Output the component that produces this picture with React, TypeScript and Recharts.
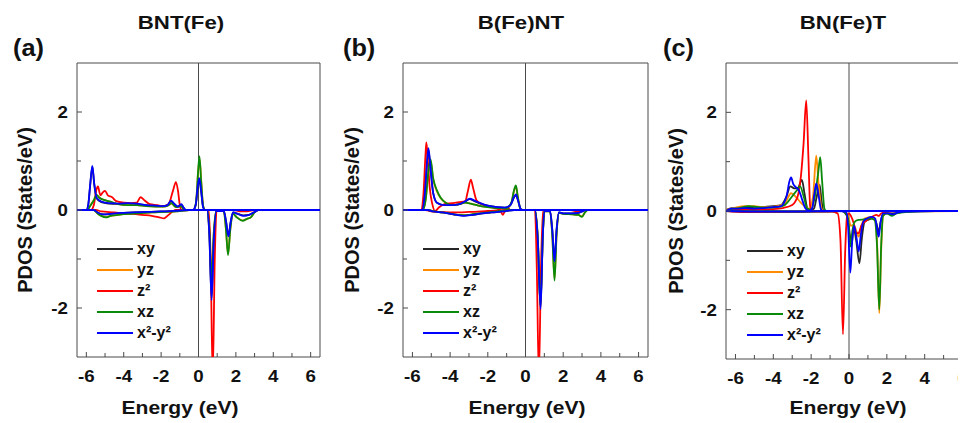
import React from 'react';
import { LineChart, Line, XAxis, YAxis, ReferenceLine, ReferenceArea, Legend } from 'recharts';

type Pt = [number, number];

// ---------- labels / ticks ----------
const ORBITALS = ['xy', 'yz', 'z²', 'xz', 'x²-y²'];
const COLORS = ['#262626', '#FF8C00', '#FF0000', '#0A8A0A', '#0000FF'];
const E_TICKS = [-6, -5, -4, -3, -2, -1, 0, 1, 2, 3, 4, 5, 6];
const Y_TICKS = [-2, -1, 0, 1, 2];
const TITLES = ['BNT(Fe)', 'B(Fe)NT', 'BN(Fe)T'];
const LETTERS = ['(a)', '(b)', '(c)'];
const X_LABEL = 'Energy (eV)';
const Y_LABEL = 'PDOS (States/eV)';

// ---------- panel (a) BNT(Fe) : [energy, PDOS] ----------
const A_XY_UP: Pt[] = [[-6.5, 0], [-6.0, 0], [-5.9, 0.1], [-5.8, 0.48], [-5.68, 0.88], [-5.58, 0.53], [-5.45, 0.24], [-5.2, 0.16], [-4.8, 0.13], [-4.3, 0.12], [-3.8, 0.13], [-3.3, 0.12], [-2.8, 0.1], [-2.3, 0.09], [-1.9, 0.08], [-1.65, 0.1], [-1.48, 0.18], [-1.3, 0.12], [-1.1, 0.07], [-0.92, 0.11], [-0.8, 0.05], [-0.68, 0], [-0.3, 0], [-0.15, 0.1], [-0.05, 0.42], [0.04, 0.62], [0.14, 0.38], [0.25, 0.05], [0.35, 0], [6.5, 0]];
const A_YZ_UP: Pt[] = [[-6.5, 0], [-5.95, 0], [-5.8, 0.08], [-5.6, 0.2], [-5.45, 0.3], [-5.3, 0.25], [-5.0, 0.2], [-4.7, 0.16], [-4.3, 0.12], [-3.8, 0.1], [-3.3, 0.1], [-2.8, 0.08], [-2.3, 0.07], [-1.9, 0.07], [-1.6, 0.1], [-1.45, 0.13], [-1.2, 0.06], [-0.95, 0.08], [-0.75, 0], [-0.25, 0], [-0.12, 0.2], [-0.02, 0.78], [0.06, 1.03], [0.15, 0.58], [0.25, 0.08], [0.35, 0], [6.5, 0]];
const A_Z2_UP: Pt[] = [[-6.5, 0], [-5.75, 0], [-5.6, 0.1], [-5.47, 0.4], [-5.38, 0.48], [-5.25, 0.3], [-5.12, 0.36], [-5.0, 0.39], [-4.85, 0.3], [-4.62, 0.26], [-4.4, 0.18], [-4.0, 0.15], [-3.6, 0.14], [-3.3, 0.15], [-3.1, 0.26], [-2.9, 0.2], [-2.6, 0.12], [-2.2, 0.1], [-1.9, 0.08], [-1.6, 0.12], [-1.36, 0.4], [-1.21, 0.57], [-1.1, 0.4], [-1.0, 0.1], [-0.9, 0], [6.5, 0]];
const A_XZ_UP: Pt[] = [[-6.5, 0], [-5.95, 0], [-5.8, 0.08], [-5.6, 0.2], [-5.45, 0.31], [-5.3, 0.25], [-5.0, 0.2], [-4.7, 0.17], [-4.3, 0.12], [-3.8, 0.1], [-3.3, 0.1], [-2.8, 0.08], [-2.3, 0.07], [-1.9, 0.07], [-1.6, 0.1], [-1.45, 0.14], [-1.2, 0.06], [-0.95, 0.08], [-0.75, 0], [-0.25, 0], [-0.12, 0.2], [-0.02, 0.8], [0.05, 1.1], [0.14, 0.6], [0.25, 0.08], [0.35, 0], [6.5, 0]];
const A_X2_UP: Pt[] = [[-6.5, 0], [-6.0, 0], [-5.9, 0.1], [-5.8, 0.5], [-5.68, 0.9], [-5.58, 0.55], [-5.45, 0.25], [-5.2, 0.17], [-4.8, 0.14], [-4.3, 0.13], [-3.8, 0.14], [-3.3, 0.13], [-2.8, 0.1], [-2.3, 0.09], [-1.9, 0.08], [-1.65, 0.1], [-1.48, 0.19], [-1.3, 0.13], [-1.1, 0.07], [-0.92, 0.12], [-0.8, 0.05], [-0.68, 0], [-0.3, 0], [-0.15, 0.1], [-0.05, 0.45], [0.04, 0.65], [0.14, 0.4], [0.25, 0.05], [0.35, 0], [6.5, 0]];
const A_XY_DN: Pt[] = [[-6.5, 0], [-5.6, 0], [-5.4, -0.05], [-5.1, -0.09], [-4.7, -0.08], [-4.2, -0.06], [-3.5, -0.05], [-2.8, -0.04], [-2.0, -0.03], [-1.0, -0.01], [-0.5, 0], [0.45, 0], [0.58, -0.5], [0.7, -1.8], [0.82, -0.6], [0.95, -0.02], [1.35, -0.02], [1.48, -0.25], [1.6, -0.52], [1.72, -0.25], [1.85, -0.05], [2.1, -0.08], [2.4, -0.11], [2.7, -0.1], [3.0, -0.04], [3.2, 0], [6.5, 0]];
const A_YZ_DN: Pt[] = [[-6.5, 0], [-5.6, 0], [-5.4, -0.07], [-5.2, -0.12], [-4.96, -0.14], [-4.7, -0.12], [-4.3, -0.1], [-3.8, -0.08], [-3.2, -0.07], [-2.5, -0.05], [-1.8, -0.04], [-1.0, -0.02], [-0.5, 0], [0.45, 0], [0.58, -0.4], [0.7, -1.4], [0.82, -0.45], [0.95, -0.02], [1.35, -0.02], [1.47, -0.4], [1.58, -0.9], [1.7, -0.4], [1.85, -0.08], [2.05, -0.15], [2.36, -0.21], [2.6, -0.18], [2.8, -0.15], [3.0, -0.05], [3.2, 0], [6.5, 0]];
const A_Z2_DN: Pt[] = [[-6.5, 0], [-5.5, 0], [-5.2, -0.03], [-4.5, -0.05], [-4.0, -0.07], [-3.5, -0.08], [-3.0, -0.1], [-2.5, -0.12], [-2.1, -0.15], [-1.84, -0.17], [-1.6, -0.1], [-1.35, -0.02], [-1.2, 0], [0.55, 0], [0.65, -1.0], [0.76, -3.4], [0.87, -1.0], [0.97, 0], [1.9, 0], [2.2, -0.03], [2.6, -0.03], [3.0, 0], [6.5, 0]];
const A_XZ_DN: Pt[] = [[-6.5, 0], [-5.6, 0], [-5.4, -0.07], [-5.2, -0.12], [-4.96, -0.15], [-4.7, -0.12], [-4.3, -0.1], [-3.8, -0.08], [-3.2, -0.07], [-2.5, -0.05], [-1.8, -0.04], [-1.0, -0.02], [-0.5, 0], [0.45, 0], [0.58, -0.4], [0.7, -1.43], [0.82, -0.45], [0.95, -0.02], [1.35, -0.02], [1.47, -0.4], [1.58, -0.92], [1.7, -0.4], [1.85, -0.08], [2.05, -0.15], [2.36, -0.22], [2.6, -0.18], [2.8, -0.15], [3.0, -0.05], [3.2, 0], [6.5, 0]];
const A_X2_DN: Pt[] = [[-6.5, 0], [-5.6, 0], [-5.4, -0.05], [-5.1, -0.09], [-4.7, -0.08], [-4.2, -0.06], [-3.5, -0.05], [-2.8, -0.04], [-2.0, -0.03], [-1.0, -0.01], [-0.5, 0], [0.45, 0], [0.58, -0.5], [0.7, -1.84], [0.82, -0.6], [0.95, -0.02], [1.35, -0.02], [1.48, -0.25], [1.6, -0.54], [1.72, -0.25], [1.85, -0.05], [2.1, -0.08], [2.4, -0.12], [2.7, -0.1], [3.0, -0.04], [3.2, 0], [6.5, 0]];

// ---------- panel (b) B(Fe)NT ----------
const B_XY_UP: Pt[] = [[-6.5, 0], [-5.5, 0], [-5.35, 0.3], [-5.22, 0.98], [-5.15, 1.22], [-5.05, 0.88], [-4.9, 0.35], [-4.7, 0.15], [-4.3, 0.1], [-3.9, 0.1], [-3.5, 0.12], [-3.2, 0.17], [-2.96, 0.22], [-2.7, 0.18], [-2.4, 0.13], [-2.0, 0.09], [-1.5, 0.06], [-1.1, 0.05], [-0.8, 0.1], [-0.62, 0.25], [-0.51, 0.3], [-0.4, 0.2], [-0.25, 0.02], [-0.15, 0], [6.5, 0]];
const B_YZ_UP: Pt[] = [[-6.5, 0], [-5.45, 0], [-5.3, 0.2], [-5.15, 0.78], [-5.04, 1.0], [-4.9, 0.63], [-4.7, 0.38], [-4.5, 0.24], [-4.2, 0.14], [-3.9, 0.1], [-3.5, 0.12], [-3.2, 0.15], [-2.9, 0.13], [-2.5, 0.09], [-2.0, 0.06], [-1.5, 0.04], [-1.0, 0.04], [-0.75, 0.15], [-0.6, 0.4], [-0.51, 0.48], [-0.42, 0.3], [-0.28, 0.03], [-0.15, 0], [6.5, 0]];
const B_Z2_UP: Pt[] = [[-6.5, 0], [-5.55, 0], [-5.42, 0.3], [-5.31, 1.1], [-5.26, 1.38], [-5.18, 1.0], [-5.08, 0.45], [-4.95, 0.13], [-4.8, -0.02], [-4.6, 0.05], [-4.3, 0.12], [-3.9, 0.14], [-3.5, 0.16], [-3.2, 0.18], [-3.05, 0.4], [-2.9, 0.62], [-2.78, 0.45], [-2.6, 0.2], [-2.3, 0.12], [-2.0, 0.08], [-1.6, 0.04], [-1.35, 0], [-1.2, -0.1], [-1.05, 0.02], [-0.95, 0.05], [-0.8, 0], [6.5, 0]];
const B_XZ_UP: Pt[] = [[-6.5, 0], [-5.45, 0], [-5.3, 0.2], [-5.15, 0.8], [-5.04, 1.04], [-4.9, 0.65], [-4.7, 0.4], [-4.5, 0.25], [-4.2, 0.14], [-3.9, 0.1], [-3.5, 0.12], [-3.2, 0.15], [-2.9, 0.13], [-2.5, 0.09], [-2.0, 0.06], [-1.5, 0.04], [-1.0, 0.04], [-0.75, 0.15], [-0.6, 0.42], [-0.51, 0.5], [-0.42, 0.3], [-0.28, 0.03], [-0.15, 0], [6.5, 0]];
const B_X2_UP: Pt[] = [[-6.5, 0], [-5.5, 0], [-5.35, 0.3], [-5.22, 1.0], [-5.15, 1.26], [-5.05, 0.9], [-4.9, 0.35], [-4.7, 0.15], [-4.3, 0.1], [-3.9, 0.1], [-3.5, 0.12], [-3.2, 0.18], [-2.96, 0.23], [-2.7, 0.19], [-2.4, 0.14], [-2.0, 0.09], [-1.5, 0.06], [-1.1, 0.05], [-0.8, 0.1], [-0.62, 0.26], [-0.51, 0.32], [-0.4, 0.2], [-0.25, 0.02], [-0.15, 0], [6.5, 0]];
const B_XY_DN: Pt[] = [[-6.5, 0], [-5.2, 0], [-4.9, -0.03], [-4.4, -0.05], [-3.8, -0.09], [-3.3, -0.11], [-2.8, -0.1], [-2.3, -0.07], [-1.8, -0.05], [-1.2, -0.03], [-0.6, 0], [0.5, 0], [0.65, -0.6], [0.8, -1.98], [0.92, -0.5], [1.0, -0.02], [1.3, -0.02], [1.42, -0.4], [1.54, -1.02], [1.65, -0.4], [1.78, -0.05], [2.0, -0.07], [2.5, -0.07], [2.8, -0.06], [3.0, -0.03], [3.2, 0], [6.5, 0]];
const B_YZ_DN: Pt[] = [[-6.5, 0], [-5.2, 0], [-4.8, -0.03], [-4.2, -0.06], [-3.6, -0.1], [-3.2, -0.11], [-2.7, -0.08], [-2.2, -0.06], [-1.5, -0.03], [-0.8, 0], [0.5, 0], [0.65, -0.55], [0.79, -1.93], [0.92, -0.5], [1.0, -0.03], [1.3, -0.03], [1.42, -0.5], [1.54, -1.4], [1.65, -0.5], [1.78, -0.06], [2.0, -0.08], [2.5, -0.09], [2.8, -0.1], [3.0, -0.13], [3.15, -0.05], [3.3, 0], [6.5, 0]];
const B_Z2_DN: Pt[] = [[-6.5, 0], [-5.3, 0], [-5.0, -0.03], [-4.5, -0.04], [-3.8, -0.05], [-3.0, -0.04], [-2.0, -0.02], [-1.0, 0], [0.5, 0], [0.6, -1.2], [0.71, -3.4], [0.82, -1.2], [0.93, 0], [2.4, 0], [2.7, -0.03], [2.9, -0.02], [3.1, 0], [6.5, 0]];
const B_XZ_DN: Pt[] = [[-6.5, 0], [-5.2, 0], [-4.8, -0.03], [-4.2, -0.06], [-3.6, -0.1], [-3.2, -0.11], [-2.7, -0.08], [-2.2, -0.06], [-1.5, -0.03], [-0.8, 0], [0.5, 0], [0.65, -0.55], [0.79, -1.95], [0.92, -0.5], [1.0, -0.03], [1.3, -0.03], [1.42, -0.5], [1.54, -1.44], [1.65, -0.5], [1.78, -0.06], [2.0, -0.08], [2.5, -0.09], [2.8, -0.1], [3.0, -0.14], [3.15, -0.05], [3.3, 0], [6.5, 0]];
const B_X2_DN: Pt[] = [[-6.5, 0], [-5.2, 0], [-4.9, -0.03], [-4.4, -0.05], [-3.8, -0.09], [-3.3, -0.12], [-2.8, -0.1], [-2.3, -0.07], [-1.8, -0.05], [-1.2, -0.03], [-0.6, 0], [0.5, 0], [0.65, -0.6], [0.8, -2.02], [0.92, -0.5], [1.0, -0.02], [1.3, -0.02], [1.42, -0.4], [1.54, -1.05], [1.65, -0.4], [1.78, -0.05], [2.0, -0.07], [2.5, -0.07], [2.8, -0.06], [3.0, -0.03], [3.2, 0], [6.5, 0]];

// ---------- panel (c) BN(Fe)T ----------
const C_XY_UP: Pt[] = [[-6.5, 0.02], [-6.2, 0.06], [-5.9, 0.05], [-5.5, 0.08], [-5.0, 0.06], [-4.5, 0.08], [-4.0, 0.1], [-3.6, 0.12], [-3.3, 0.3], [-3.1, 0.5], [-2.9, 0.46], [-2.7, 0.47], [-2.49, 0.63], [-2.35, 0.35], [-2.2, 0.05], [-2.05, 0], [-1.85, 0.05], [-1.7, 0.3], [-1.55, 0.53], [-1.45, 0.2], [-1.35, 0], [6.5, 0]];
const C_YZ_UP: Pt[] = [[-6.5, 0.02], [-6.2, 0.05], [-5.9, 0.08], [-5.5, 0.1], [-5.0, 0.1], [-4.6, 0.08], [-4.2, 0.08], [-3.8, 0.1], [-3.4, 0.15], [-3.06, 0.36], [-2.8, 0.28], [-2.5, 0.15], [-2.3, 0.08], [-2.1, 0.05], [-1.9, 0.3], [-1.73, 1.12], [-1.62, 0.6], [-1.45, 0.05], [-1.35, 0], [6.5, 0]];
const C_Z2_UP: Pt[] = [[-6.5, 0], [-6.0, 0.02], [-5.0, 0.03], [-4.0, 0.04], [-3.5, 0.06], [-3.0, 0.12], [-2.84, 0.19], [-2.67, 0.36], [-2.54, 0.71], [-2.4, 1.37], [-2.26, 2.24], [-2.14, 1.03], [-2.05, 0.09], [-1.9, 0], [6.5, 0]];
const C_XZ_UP: Pt[] = [[-6.5, 0], [-6.2, 0.04], [-5.8, 0.06], [-5.3, 0.1], [-4.8, 0.08], [-4.3, 0.07], [-3.8, 0.08], [-3.4, 0.12], [-3.0, 0.3], [-2.75, 0.42], [-2.58, 0.5], [-2.4, 0.3], [-2.2, 0.05], [-2.0, 0.03], [-1.8, 0.3], [-1.62, 0.8], [-1.52, 1.09], [-1.42, 0.6], [-1.3, 0.05], [-1.2, 0], [6.5, 0]];
const C_X2_UP: Pt[] = [[-6.5, 0], [-6.2, 0.05], [-5.9, 0.05], [-5.5, 0.06], [-5.0, 0.05], [-4.5, 0.06], [-4.0, 0.08], [-3.6, 0.1], [-3.3, 0.3], [-3.15, 0.6], [-3.06, 0.68], [-2.95, 0.55], [-2.8, 0.48], [-2.65, 0.42], [-2.45, 0.2], [-2.3, 0.05], [-2.1, 0], [-1.95, 0.05], [-1.83, 0.35], [-1.73, 0.56], [-1.62, 0.35], [-1.48, 0.03], [-1.4, 0], [6.5, 0]];
const C_XY_DN: Pt[] = [[-6.5, 0], [-3.0, -0.01], [-0.4, 0], [-0.1, -0.1], [0.05, -0.5], [0.12, -0.72], [0.25, -0.35], [0.38, -0.6], [0.55, -1.06], [0.68, -0.55], [0.82, -0.22], [1.0, -0.18], [1.3, -0.15], [1.45, -0.25], [1.57, -0.42], [1.68, -0.2], [1.85, -0.05], [2.3, -0.05], [2.8, -0.02], [3.5, 0], [6.5, 0]];
const C_YZ_DN: Pt[] = [[-6.5, 0], [-3.0, -0.01], [-0.3, 0], [-0.05, -0.1], [0.1, -0.3], [0.25, -0.28], [0.4, -0.42], [0.51, -0.52], [0.65, -0.3], [0.85, -0.15], [1.2, -0.12], [1.4, -0.2], [1.5, -0.8], [1.6, -2.07], [1.7, -0.8], [1.8, -0.1], [2.0, -0.05], [2.28, -0.08], [2.6, -0.03], [3.0, -0.01], [6.5, 0]];
const C_Z2_DN: Pt[] = [[-6.5, 0], [-5.5, -0.02], [-4.5, -0.02], [-3.5, -0.02], [-2.0, -0.01], [-0.9, -0.01], [-0.6, -0.05], [-0.45, -0.6], [-0.32, -2.5], [-0.2, -0.8], [-0.1, -0.1], [0.0, -0.05], [0.1, -0.1], [0.25, -0.25], [0.38, -0.45], [0.5, -0.45], [0.65, -0.3], [0.9, -0.2], [1.2, -0.12], [1.45, -0.08], [1.57, -0.1], [1.7, -0.05], [2.0, -0.02], [2.5, 0], [6.5, 0]];
const C_XZ_DN: Pt[] = [[-6.5, 0], [-3.0, -0.01], [-0.3, 0], [-0.05, -0.15], [0.07, -0.72], [0.18, -0.4], [0.3, -0.22], [0.5, -0.18], [0.8, -0.17], [1.1, -0.15], [1.35, -0.18], [1.48, -0.7], [1.6, -2.0], [1.7, -0.7], [1.8, -0.1], [2.0, -0.05], [2.28, -0.1], [2.5, -0.05], [3.0, -0.02], [4.6, 0], [6.5, 0]];
const C_X2_DN: Pt[] = [[-6.5, 0], [-5.0, -0.01], [-3.0, -0.01], [-0.5, 0], [-0.15, -0.02], [-0.05, -0.3], [0.07, -1.25], [0.17, -0.6], [0.27, -0.3], [0.4, -0.55], [0.51, -0.82], [0.62, -0.5], [0.75, -0.22], [0.95, -0.15], [1.2, -0.12], [1.38, -0.15], [1.5, -0.4], [1.57, -0.52], [1.66, -0.25], [1.8, -0.05], [2.1, -0.05], [2.3, -0.07], [2.6, -0.03], [3.0, -0.01], [4.6, 0], [6.5, 0]];

// ---------- layout ----------
const FONT = "'Liberation Sans', Arial, Helvetica, sans-serif";
const FRAME = '#4a4a4a';
const SX = 1.17; // horizontal stretch of the original figure's lettering

type PanelSpec = {
  plotLeft: number; plotRight: number; plotTop: number; plotBottom: number;
  titleX: number; letterX: number; yLabelX: number; xLabelX: number;
  legendX: number; legendY: number;
  up: Pt[][]; dn: Pt[][];
};

const PANELS: PanelSpec[] = [
  { plotLeft: 77, plotRight: 320, plotTop: 63, plotBottom: 357, titleX: 181, letterX: 13, yLabelX: 26, xLabelX: 180, legendX: 97, legendY: 249,
    up: [A_XY_UP, A_YZ_UP, A_Z2_UP, A_XZ_UP, A_X2_UP], dn: [A_XY_DN, A_YZ_DN, A_Z2_DN, A_XZ_DN, A_X2_DN] },
  { plotLeft: 403, plotRight: 648, plotTop: 63, plotBottom: 357, titleX: 521, letterX: 343, yLabelX: 353, xLabelX: 527, legendX: 423, legendY: 249,
    up: [B_XY_UP, B_YZ_UP, B_Z2_UP, B_XZ_UP, B_X2_UP], dn: [B_XY_DN, B_YZ_DN, B_Z2_DN, B_XZ_DN, B_X2_DN] },
  { plotLeft: 726, plotRight: 972, plotTop: 63, plotBottom: 359, titleX: 843, letterX: 663, yLabelX: 677, xLabelX: 848, legendX: 747, legendY: 251,
    up: [C_XY_UP, C_YZ_UP, C_Z2_UP, C_XZ_UP, C_X2_UP], dn: [C_XY_DN, C_YZ_DN, C_Z2_DN, C_XZ_DN, C_X2_DN] },
];

const toRows = (pts: Pt[]) => pts.map(([e, v]) => ({ e, v }));

const XTick = (props: any) => {
  const { x, y, payload } = props;
  const v = payload.value as number;
  const major = v % 2 === 0;
  return (
    <g>
      <line x1={x} y1={y} x2={x} y2={y - (major ? 5 : 4)} stroke={FRAME} strokeWidth={1} />
      {major && (
        <text transform={`translate(${x},${y + 25}) scale(${SX},1)`} textAnchor="middle" fontFamily={FONT} fontSize={16} fontWeight="bold" fill="#111">
          {String(v)}
        </text>
      )}
    </g>
  );
};

const YTick = (props: any) => {
  const { x, y, payload } = props;
  const v = payload.value as number;
  const major = v % 2 === 0;
  return (
    <g>
      <line x1={x} y1={y} x2={x + (major ? 5 : 4)} y2={y} stroke={FRAME} strokeWidth={1} />
      {major && (
        <text transform={`translate(${x - 9},${y + 6}) scale(${SX},1)`} textAnchor="end" fontFamily={FONT} fontSize={16} fontWeight="bold" fill="#111">
          {String(v)}
        </text>
      )}
    </g>
  );
};

const LegendBox = () => (
  <svg width={130} height={110} style={{ display: 'block' }}>
    {ORBITALS.map((name, i) => {
      const y = 10 + i * 21;
      return (
        <g key={name}>
          <line x1={0} y1={y} x2={36} y2={y} stroke={COLORS[i]} strokeWidth={2} />
          <text x={40} y={y + 5} fontFamily={FONT} fontSize={16} fontWeight="bold" fill="#111">{name}</text>
        </g>
      );
    })}
  </svg>
);

function Panel({ spec }: { spec: PanelSpec }) {
  const yAxisW = 50;
  const xAxisH = 30;
  const height = 423;
  const left = spec.plotLeft - yAxisW;
  const width = spec.plotRight - spec.plotLeft + yAxisW + 10;
  const margin = { top: spec.plotTop, right: 10, bottom: height - spec.plotBottom - xAxisH, left: 0 };
  const lines: React.ReactNode[] = [];
  ORBITALS.forEach((name, i) => {
    [spec.up[i], spec.dn[i]].forEach((pts, k) => {
      lines.push(
        <Line key={`${name}-${k}`} data={toRows(pts)} dataKey="v" type="monotone" stroke={COLORS[i]} strokeWidth={1.8}
          dot={false} activeDot={false} isAnimationActive={false} legendType="none" />
      );
    });
  });
  return (
    <div style={{ position: 'absolute', left, top: 0 }}>
      <LineChart width={width} height={height} margin={margin}>
        <XAxis type="number" dataKey="e" domain={[-6.5, 6.5]} ticks={E_TICKS} interval={0} tick={XTick}
          tickLine={false} axisLine={false} tickSize={0} tickMargin={0} height={xAxisH} allowDataOverflow />
        <YAxis type="number" domain={[-3, 3]} ticks={Y_TICKS} interval={0} tick={YTick}
          tickLine={false} axisLine={false} tickSize={0} tickMargin={0} width={yAxisW} allowDataOverflow />
        <ReferenceArea x1={-6.5} x2={6.5} y1={-3} y2={3} fill="#ffffff" fillOpacity={0} stroke={FRAME} strokeWidth={1} ifOverflow="visible" />
        <ReferenceLine x={0} stroke={FRAME} strokeWidth={1} />
        {lines}
        <Legend content={() => <LegendBox />} layout="vertical" align="center" verticalAlign="middle"
          wrapperStyle={{ position: 'absolute', left: spec.legendX - left, top: spec.legendY - 10, width: 130, height: 110 }} />
      </LineChart>
    </div>
  );
}

export default function App() {
  return (
    <div style={{ position: 'relative', width: 966, height: 423, margin: '-8px 0 0 -8px', overflow: 'hidden', background: '#fff' }}>
      {PANELS.map((p, i) => <Panel key={i} spec={p} />)}
      <svg width={966} height={423} style={{ position: 'absolute', left: 0, top: 0, pointerEvents: 'none' }}>
        {PANELS.map((p, i) => (
          <g key={i} fontFamily={FONT} fontWeight="bold" fill="#111">
            <text transform={`translate(${p.titleX},29) scale(${SX},1)`} textAnchor="middle" fontSize={19}>{TITLES[i]}</text>
            <text transform={`translate(${p.letterX},56) scale(1.1,1)`} textAnchor="start" fontSize={23}>{LETTERS[i]}</text>
            <text transform={`translate(${p.yLabelX + 6},${(p.plotTop + p.plotBottom) / 2}) rotate(-90)`} textAnchor="middle" fontSize={20}>{Y_LABEL}</text>
            <text transform={`translate(${p.xLabelX},414) scale(${SX},1)`} textAnchor="middle" fontSize={18}>{X_LABEL}</text>
          </g>
        ))}
      </svg>
    </div>
  );
}
